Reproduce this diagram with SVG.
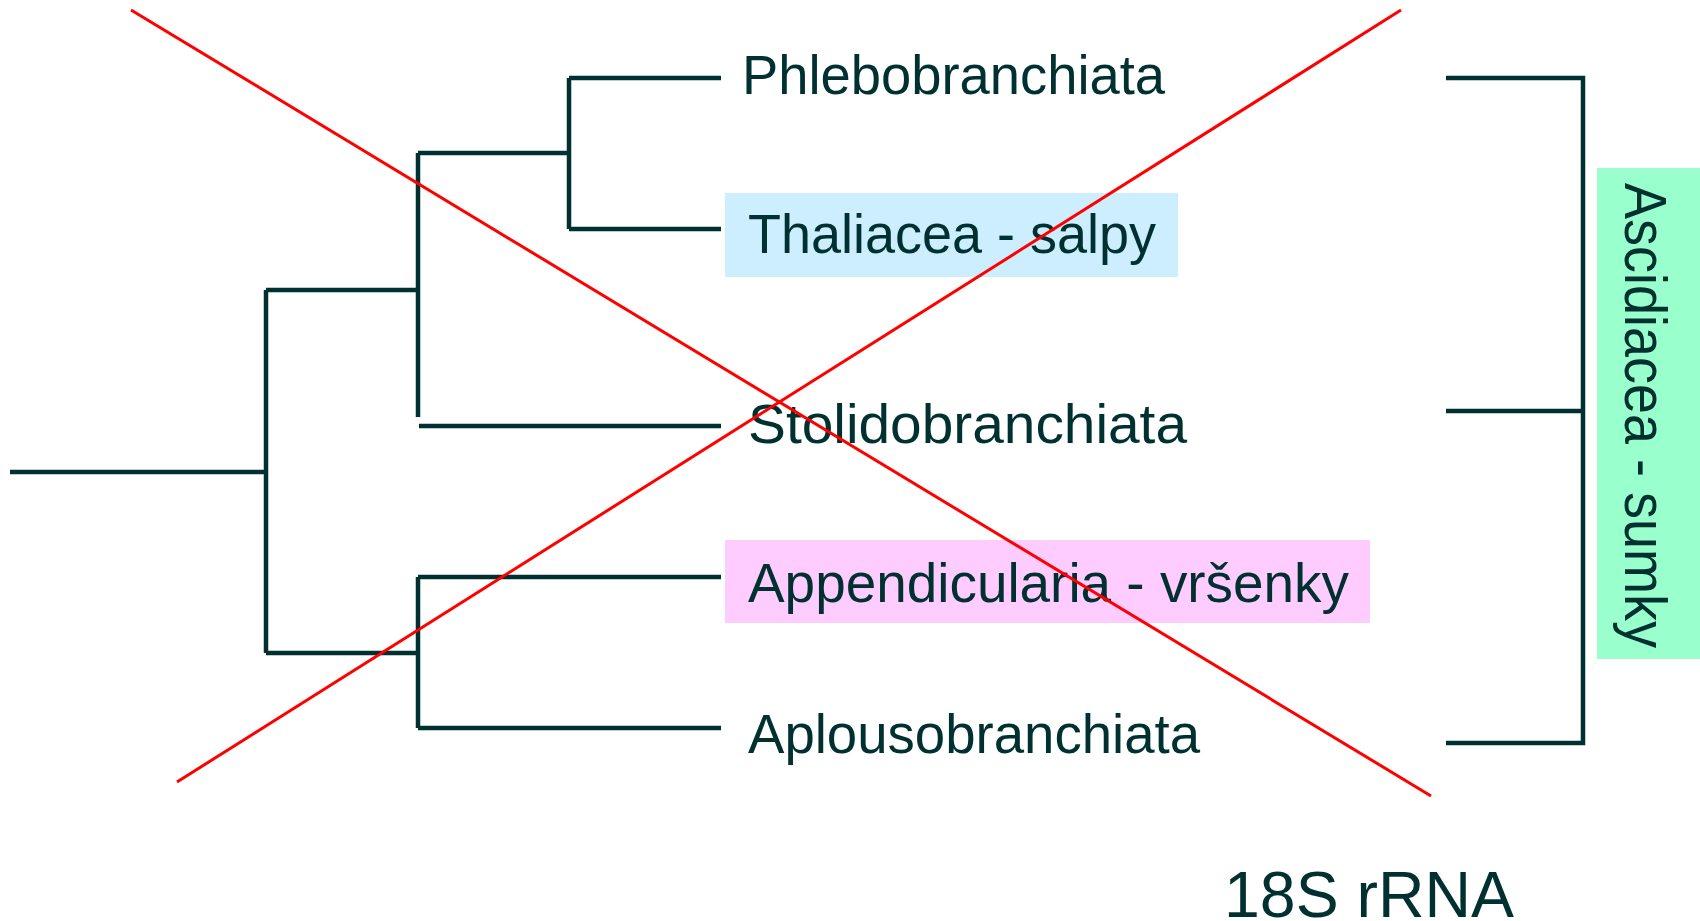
<svg xmlns="http://www.w3.org/2000/svg" width="1700" height="921" viewBox="0 0 1700 921">
<style>
.tree{stroke:#003030;stroke-width:4.5;fill:none;stroke-linecap:butt}
.lbl{font-family:"Liberation Sans",Arial,sans-serif;font-size:55px;fill:#003030}
.cross{stroke:#ff0000;stroke-width:3;fill:none}
</style>
<rect width="1700" height="921" fill="#ffffff"/>
<g id="connectors">
<path class="tree" d="M10 472H266M266 290V653M266 290H418M418 153V417M418 153H569M569 78V229M569 78H721M569 229H721M419 426H721M266 653H418M418 577V728M418 577H721M418 728H721"/>
<path class="tree" d="M1446 78H1583V743H1446M1446 411H1583"/>
</g>
<g id="node-phlebo"><text class="lbl" x="742" y="94" textLength="423" lengthAdjust="spacingAndGlyphs">Phlebobranchiata</text></g>
<g id="node-thaliacea"><rect x="725" y="193" width="453" height="84" fill="#cceeff"/><text class="lbl" x="748" y="253" textLength="408" lengthAdjust="spacingAndGlyphs">Thaliacea - salpy</text></g>
<g id="node-stolido"><text class="lbl" x="748" y="443" textLength="439" lengthAdjust="spacingAndGlyphs">Stolidobranchiata</text></g>
<g id="node-appendicularia"><rect x="725" y="540" width="645" height="83" fill="#ffccff"/><text class="lbl" x="748" y="602" textLength="601" lengthAdjust="spacingAndGlyphs">Appendicularia - vršenky</text></g>
<g id="node-aplouso"><text class="lbl" x="748" y="753" textLength="452" lengthAdjust="spacingAndGlyphs">Aplousobranchiata</text></g>
<g id="node-ascidiacea"><rect x="1597" y="168" width="103" height="491" fill="#99ffcc"/><text class="lbl" transform="translate(1625 183) rotate(90)" x="0" y="0" font-size="60" style="font-size:60px" textLength="465" lengthAdjust="spacingAndGlyphs">Ascidiacea - sumky</text></g>
<g id="node-18s"><text class="lbl" x="1224" y="917" style="font-size:64px" textLength="290" lengthAdjust="spacingAndGlyphs">18S rRNA</text></g>
<g id="cross">
<line class="cross" x1="131" y1="10" x2="1431" y2="796"/>
<line class="cross" x1="177" y1="782" x2="1401" y2="10"/>
</g>
</svg>
